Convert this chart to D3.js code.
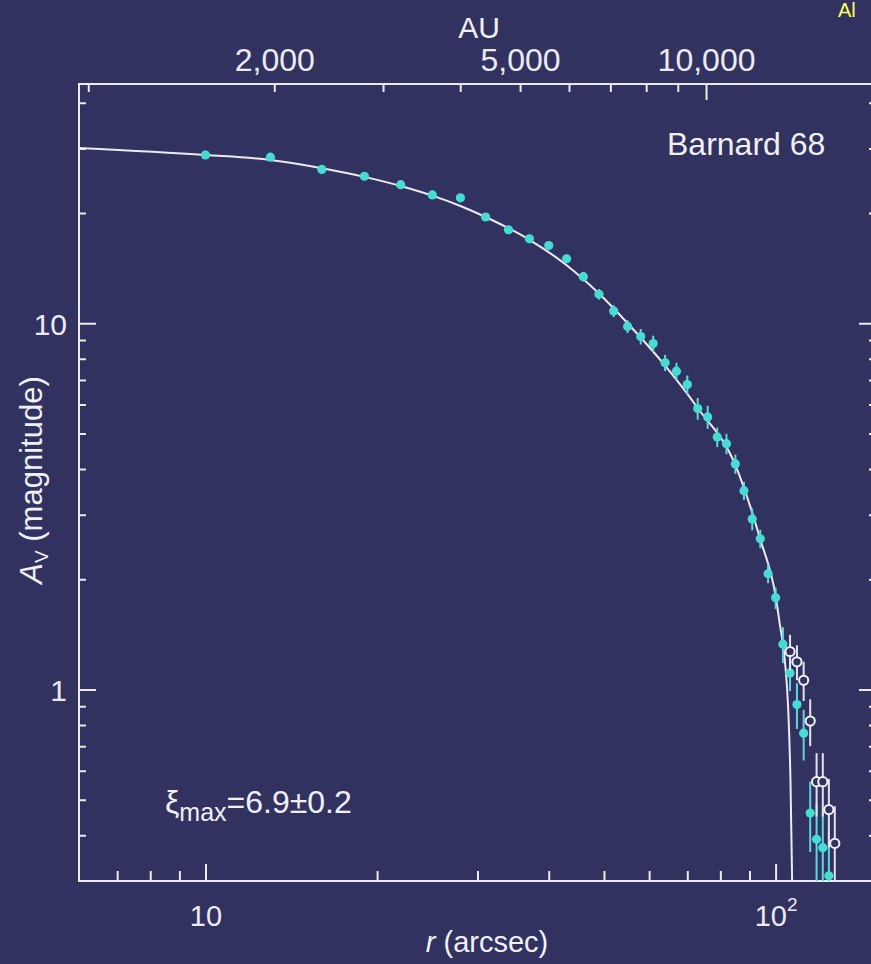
<!DOCTYPE html>
<html>
<head>
<meta charset="utf-8">
<script src="https://cdn.jsdelivr.net/npm/d3@7"></script>
<style>
  html, body { margin: 0; padding: 0; background: #323260; }
  svg { display: block; }
  text { font-family: 'Liberation Sans', Arial, Helvetica, sans-serif; fill: #f0f0f6; }
</style>
</head>
<body>
<div id="chart"></div>
<script>
// filled (cyan) points: radius in arcsec, extinction in magnitudes, 1-sigma error
const rArcsec = [10, 13, 16, 19, 22, 25, 28, 31, 34, 37, 40, 43, 46, 49, 52, 55, 58, 61, 64, 67,
  70, 73, 76, 79, 82, 85, 88, 91, 94, 97, 100, 103, 106, 109, 112, 115, 118, 121, 124]
const avMag = [28.8, 28.4, 26.3, 25.2, 23.9, 22.4, 22.0, 19.5, 18.0, 17.0, 16.3, 15.0, 13.4, 12.0,
  10.8, 9.8, 9.2, 8.8, 7.8, 7.4, 6.8, 5.85, 5.55, 4.89, 4.69, 4.13, 3.49, 2.92, 2.58, 2.07,
  1.78, 1.33, 1.11, 0.91, 0.76, 0.46, 0.39, 0.37, 0.31]
const avErr = [0, 0, 0, 0, 0, 0, 0, 0, 0, 0, 0, 0, 0.4, 0.4,
  0.4, 0.4, 0.45, 0.45, 0.4, 0.4, 0.4, 0.4, 0.4, 0.3, 0.3, 0.25, 0.2, 0.2, 0.15, 0.12,
  0.12, 0.15, 0.12, 0.13, 0.12, 0.1, 0.1, 0.1, 0.1]

// open circles
const openR = [106, 109, 112, 115, 118, 121, 124, 127]
const openAv = [1.27, 1.19, 1.06, 0.82, 0.56, 0.56, 0.47, 0.38]
const openErr = [0.14, 0.13, 0.13, 0.12, 0.11, 0.11, 0.1, 0.1]

// Bonnor-Ebert fit
const fitR = [6, 10, 13, 16, 19, 22, 25, 28, 31, 37, 43, 49, 55, 64, 73, 85, 94, 100,
  101.7, 103.8, 105.2, 106.2, 106.9, 107.2]
const fitAv = [30.1, 28.8, 27.9, 26.5, 25.1, 23.7, 22.3, 20.9, 19.5, 16.9, 14.4, 12.05, 10.0,
  7.66, 5.87, 4.1, 2.57, 1.8, 1.51, 1.2, 0.89, 0.56, 0.3, 0.25]

// ticks
const yMajor = [1, 10]
const yMinor = [0.4, 0.5, 0.6, 0.7, 0.8, 0.9, 2, 3, 4, 5, 6, 7, 8, 9, 20, 30, 40]
const xMajor = [10, 100]
const xMinor = [7, 8, 9, 20, 30, 40, 50, 60, 70, 80, 90]
const auMinor = [1000, 2000, 3000, 4000, 5000, 6000, 7000, 8000, 9000]
const auMajor = [10000]
const auLabels = [2000, 5000, 10000]

const margin = { top: 84, left: 79, right: -5, bottom: 83 }
const width = 871 - margin.left - margin.right
const height = 964 - margin.top - margin.bottom

const bg = '#323260'
const ink = '#ecebf4'
const cyan = '#46dcd4'

const root = d3.select('#chart')
  .append('svg')
  .attr('width', 871)
  .attr('height', 964)

root.append('rect').attr('width', 871).attr('height', 964).attr('fill', bg)

// piece of the neighbouring panel's label
root.append('text')
  .attr('x', 838).attr('y', 17)
  .attr('font-size', 20)
  .style('fill', '#ffff5a')
  .text('Al')

const svg = root.append('g')
  .attr('transform', 'translate(' + margin.left + ',' + margin.top + ')')

const x = d3.scaleLog().domain([6, 150]).range([0, width])
const y = d3.scaleLog().domain([0.3, 45]).range([height, 0])
const au = d3.scaleLog().domain([966, 18840]).range([0, width])

svg.append('clipPath').attr('id', 'plot-clip')
  .append('rect').attr('width', width).attr('height', height)

// axes
function styleAxis(g, size) {
  g.select('.domain').remove()
  g.selectAll('.tick line').attr('stroke', ink).attr('stroke-width', 2)
  g.selectAll('.tick text').style('fill', ink).attr('font-size', size || 29)
    .attr('font-family', "'Liberation Sans', Arial, sans-serif")
}

svg.append('g')
  .call(d3.axisLeft(y).tickValues(yMajor).tickSizeInner(-17).tickSizeOuter(0)
    .tickPadding(12).tickFormat(d3.format('d')))
  .call(styleAxis, 30)
  .selectAll('.tick text').attr('dy', '0.38em')
svg.append('g')
  .call(d3.axisLeft(y).tickValues(yMinor).tickSizeInner(-7).tickSizeOuter(0).tickFormat(''))
  .call(styleAxis)
svg.append('g')
  .attr('transform', 'translate(' + width + ',0)')
  .call(d3.axisRight(y).tickValues(yMajor).tickSizeInner(-17).tickSizeOuter(0).tickFormat(''))
  .call(styleAxis)
svg.append('g')
  .attr('transform', 'translate(' + width + ',0)')
  .call(d3.axisRight(y).tickValues(yMinor).tickSizeInner(-7).tickSizeOuter(0).tickFormat(''))
  .call(styleAxis)

const xAxisMajor = svg.append('g')
  .attr('transform', 'translate(0,' + height + ')')
  .call(d3.axisBottom(x).tickValues(xMajor).tickSizeInner(-17).tickSizeOuter(0).tickPadding(24))
  .call(styleAxis, 29)
xAxisMajor.selectAll('.tick text').each(function(d) {
  const t = d3.select(this).text('')
  if (d === 10) {
    t.text('10')
  } else {
    t.append('tspan').text('10')
    t.append('tspan').attr('font-size', 19).attr('dy', '-0.75em').text('2')
  }
})
svg.append('g')
  .attr('transform', 'translate(0,' + height + ')')
  .call(d3.axisBottom(x).tickValues(xMinor).tickSizeInner(-10).tickSizeOuter(0).tickFormat(''))
  .call(styleAxis)

svg.append('g')
  .call(d3.axisTop(au).tickValues(auMinor).tickSizeInner(-8).tickSizeOuter(0).tickFormat(''))
  .call(styleAxis)
svg.append('g')
  .call(d3.axisTop(au).tickValues(auMajor).tickSizeInner(-16).tickSizeOuter(0).tickFormat(''))
  .call(styleAxis)
svg.append('g')
  .call(d3.axisTop(au).tickValues(auLabels).tickSize(0).tickPadding(13)
    .tickFormat(d3.format(',')))
  .call(styleAxis, 32)

// frame
svg.append('rect')
  .attr('width', width).attr('height', height)
  .attr('fill', 'none').attr('stroke', ink).attr('stroke-width', 2)

const plot = svg.append('g').attr('clip-path', 'url(#plot-clip)')

// fit curve
const fit = fitR.map((r, i) => [r, fitAv[i]])
plot.append('path')
  .datum(fit)
  .attr('fill', 'none')
  .attr('stroke', ink)
  .attr('stroke-width', 2)
  .attr('d', d3.line().x(d => x(d[0])).y(d => y(d[1])).curve(d3.curveMonotoneX))

// filled points
const filled = rArcsec.map((r, i) => ({ r: r, av: avMag[i], err: avErr[i] }))
plot.selectAll('.err-filled')
  .data(filled.filter(d => d.err > 0))
  .enter()
  .append('line')
  .attr('class', 'err-filled')
  .attr('x1', d => x(d.r)).attr('x2', d => x(d.r))
  .attr('y1', d => y(d.av + d.err))
  .attr('y2', d => y(Math.max(d.av - d.err, 0.05)))
  .attr('stroke', '#5fd6dc')
  .attr('stroke-width', 2)
plot.selectAll('.dot')
  .data(filled)
  .enter()
  .append('circle')
  .attr('class', 'dot')
  .attr('cx', d => x(d.r))
  .attr('cy', d => y(d.av))
  .attr('r', 4.6)
  .attr('fill', cyan)

// open points
const open = openR.map((r, i) => ({ r: r, av: openAv[i], err: openErr[i] }))
plot.selectAll('.err-open')
  .data(open)
  .enter()
  .append('line')
  .attr('class', 'err-open')
  .attr('x1', d => x(d.r)).attr('x2', d => x(d.r))
  .attr('y1', d => y(d.av + d.err))
  .attr('y2', d => y(Math.max(d.av - d.err, 0.05)))
  .attr('stroke', '#e4e2f2')
  .attr('stroke-width', 2)
plot.selectAll('.ring')
  .data(open)
  .enter()
  .append('circle')
  .attr('class', 'ring')
  .attr('cx', d => x(d.r))
  .attr('cy', d => y(d.av))
  .attr('r', 4.6)
  .attr('fill', bg)
  .attr('stroke', '#f2f2fa')
  .attr('stroke-width', 2)

// labels
svg.append('text')
  .attr('x', 588).attr('y', 71)
  .attr('font-size', 32)
  .text('Barnard 68')

const xi = svg.append('text')
  .attr('x', 86).attr('y', 729)
  .attr('font-size', 32)
xi.append('tspan').text('ξ')
xi.append('tspan').attr('font-size', 25).attr('dy', 8).text('max')
xi.append('tspan').attr('dy', -8).text('=6.9±0.2')

root.append('text')
  .attr('x', 479).attr('y', 38)
  .attr('text-anchor', 'middle')
  .attr('font-size', 30)
  .text('AU')

const xt = root.append('text')
  .attr('x', 487).attr('y', 952)
  .attr('text-anchor', 'middle')
  .attr('font-size', 29)
xt.append('tspan').attr('font-style', 'italic').text('r')
xt.append('tspan').text(' (arcsec)')

const yt = root.append('text')
  .attr('transform', 'translate(42,480) rotate(-90)')
  .attr('text-anchor', 'middle')
  .attr('font-size', 31)
yt.append('tspan').attr('font-style', 'italic').text('A')
yt.append('tspan').attr('font-size', 19).attr('dy', 6).text('V')
yt.append('tspan').attr('dy', -6).text(' (magnitude)')
</script>
</body>
</html>
